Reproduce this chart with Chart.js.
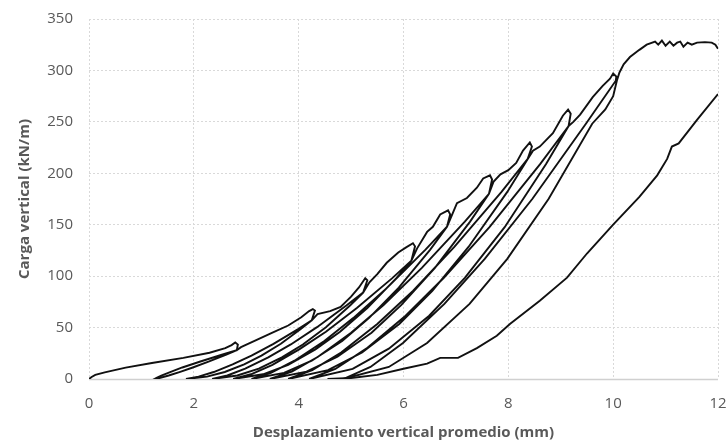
<!DOCTYPE html>
<html lang="es">
<head>
<meta charset="utf-8">
<script src="https://cdn.jsdelivr.net/npm/chart.js@4.4.1/dist/chart.umd.min.js"></script>
<style>
  html, body { margin: 0; padding: 0; background: #fff; }
</style>
</head>
<body>
<canvas id="cargaChart" width="728" height="446"></canvas>
<script>
// Ensayo ciclico: desplazamiento (mm) y carga (kN/m), en orden de registro
const desplazamiento = [
  // carga virgen hasta el primer pico
  0, 0.05, 0.12, 0.3, 0.7, 1.2, 1.8, 2.3, 2.6, 2.72, 2.79, 2.84, 2.82,
  // ciclo 1
  2.55, 2.11, 1.78, 1.56, 1.38, 1.29, 1.25,
  1.36, 1.52, 1.74, 1.98, 2.28, 2.62, 2.82, 2.9,
  3.2, 3.5, 3.8, 4.05, 4.2, 4.27, 4.31, 4.25,
  // ciclo 2
  3.99, 3.52, 3.1, 2.74, 2.38, 2.09, 1.85,
  2.25, 2.59, 2.96, 3.29, 3.66, 4.04, 4.25, 4.36,
  4.6, 4.8, 5.0, 5.15, 5.27, 5.31, 5.23,
  // ciclo 3
  4.91, 4.35, 3.85, 3.42, 2.98, 2.64, 2.35,
  2.83, 3.24, 3.68, 4.08, 4.52, 4.98, 5.23, 5.35,
  5.5, 5.68, 5.9, 6.05, 6.18, 6.22, 6.15,
  // ciclo 4
  5.78, 5.11, 4.52, 4.01, 3.5, 3.09, 2.75,
  3.32, 3.8, 4.32, 4.79, 5.31, 5.86, 6.15, 6.26,
  6.45, 6.56, 6.7, 6.85, 6.89, 6.83,
  // ciclo 5
  6.42, 5.69, 5.04, 4.49, 3.92, 3.47, 3.1,
  3.72, 4.25, 4.83, 5.34, 5.91, 6.51, 6.83, 6.93,
  7.02, 7.21, 7.4, 7.52, 7.65, 7.69, 7.63,
  // ciclo 6
  7.17, 6.35, 5.62, 5.0, 4.37, 3.87, 3.45,
  4.15, 4.74, 5.39, 5.96, 6.6, 7.27, 7.63, 7.72,
  7.85, 8.0, 8.15, 8.28, 8.41, 8.45, 8.37,
  // ciclo 7
  7.87, 6.97, 6.18, 5.5, 4.81, 4.26, 3.8,
  4.56, 5.21, 5.92, 6.55, 7.24, 7.98, 8.37, 8.47,
  8.6, 8.85, 9.04, 9.14, 9.19, 9.15,
  // ciclo 8
  8.61, 7.64, 6.77, 6.04, 5.29, 4.7, 4.2,
  5.03, 5.72, 6.49, 7.17, 7.93, 8.72, 9.15, 9.24,
  9.37, 9.61, 9.8, 9.94, 10.0, 10.06, 10.05,
  // ciclo 9
  9.48, 8.46, 7.55, 6.78, 5.99, 5.37, 4.85,
  5.72, 6.45, 7.26, 7.98, 8.77, 9.6, 9.85, 10.0, 10.07, 10.12,
  // meseta final
  10.2, 10.32, 10.5, 10.64, 10.8, 10.86, 10.93, 11.0, 11.08, 11.15,
  11.22, 11.28, 11.34, 11.42, 11.5, 11.6, 11.75, 11.88, 11.95, 12.0,
];
const carga = [
  0, 2, 4, 6.5, 11, 15.5, 20.5, 25.5, 30, 33, 35.5, 33.5, 28,
  23.8, 16.8, 11.2, 7, 3.4, 1.1, 0,
  1.1, 3.4, 7, 11.2, 16.8, 23.8, 28, 31,
  38, 45, 52, 60, 66, 68, 66.5, 57,
  48.5, 34.2, 22.8, 14.3, 6.8, 2.3, 0,
  2.3, 6.8, 14.3, 22.8, 34.2, 48.5, 57, 63,
  66, 70, 80, 89, 98, 96, 84,
  71.4, 50.4, 33.6, 21, 10.1, 3.4, 0,
  3.4, 10.1, 21, 33.6, 50.4, 71.4, 84, 94,
  102, 113, 123, 128, 132, 129, 115,
  97.8, 69, 46, 28.8, 13.8, 4.6, 0,
  4.6, 13.8, 28.8, 46, 69, 97.8, 115, 127,
  143, 148, 160, 164, 160, 148,
  125.8, 88.8, 59.2, 37, 17.8, 5.9, 0,
  5.9, 17.8, 37, 59.2, 88.8, 125.8, 148, 160,
  171, 176, 186, 195, 198, 194, 180,
  153, 108, 72, 45, 21.6, 7.2, 0,
  7.2, 21.6, 45, 72, 108, 153, 180, 192,
  199, 203, 210, 222, 230, 226, 214,
  181.9, 128.4, 85.6, 53.5, 25.7, 8.6, 0,
  8.6, 25.7, 53.5, 85.6, 128.4, 181.9, 214, 222,
  226, 239, 256, 262, 258, 246,
  209.1, 147.6, 98.4, 61.5, 29.5, 9.8, 0,
  9.8, 29.5, 61.5, 98.4, 147.6, 209.1, 246, 250,
  257, 274, 285, 292, 297, 294, 290,
  248.2, 175.2, 116.8, 73, 35, 11.7, 0,
  11.7, 35, 73, 116.8, 175.2, 248.2, 262, 275, 290, 298,
  306, 313, 320, 325, 328, 325, 329, 324, 328, 324,
  327, 328, 323, 327, 325, 327, 327.5, 327, 325, 321,
];

// Ultima rama de recarga (la curva mas baja)
const desplazamientoFinal = [
  4.55, 5.0, 5.5, 6.0, 6.45, 6.7, 7.04, 7.4, 7.78, 8.03, 8.6, 9.12,
  9.5, 10.0, 10.5, 10.84, 11.03, 11.12, 11.25, 11.6, 12.0,
];
const cargaFinal = [
  0, 1, 4, 10, 15, 20.5, 20.5, 30, 42, 53.5, 76, 98.5,
  122, 150, 177, 198, 214, 226, 229, 252, 277,
];

const xTicks = [0, 2, 4, 6, 8, 10, 12];
const yTicks = [0, 50, 100, 150, 200, 250, 300, 350];

const toPoints = (xs, ys) => xs.map((x, i) => ({ x: x, y: ys[i] }));

const textColor = "#595959";
const gridColor = "#d9d9d9";

// linea solida del eje horizontal
const axisLine = {
  id: "axisLine",
  beforeDatasetsDraw(chart) {
    const { ctx, chartArea } = chart;
    ctx.save();
    ctx.strokeStyle = "#d0d0d0";
    ctx.lineWidth = 1.5;
    ctx.beginPath();
    ctx.moveTo(chartArea.left, chartArea.bottom + 0.5);
    ctx.lineTo(chartArea.right, chartArea.bottom + 0.5);
    ctx.stroke();
    ctx.restore();
  },
};

const lineStyle = {
  showLine: true,
  borderColor: "#111111",
  borderWidth: 1.9,
  pointRadius: 0,
  tension: 0,
  fill: false,
};

// marcas de tick invisibles: solo separan las etiquetas del eje
const gridStyle = {
  color: gridColor,
  lineWidth: 1,
  drawTicks: true,
  tickLength: 15,
  tickColor: "rgba(0,0,0,0)",
};

const config = {
  type: "scatter",
  data: {
    datasets: [
      { label: "Ciclos", data: toPoints(desplazamiento, carga), ...lineStyle },
      { label: "Recarga final", data: toPoints(desplazamientoFinal, cargaFinal), ...lineStyle },
    ],
  },
  options: {
    responsive: false,
    animation: false,
    layout: { padding: { left: 12, right: 10, top: 19, bottom: 0 } },
    plugins: {
      legend: { display: false },
      tooltip: { enabled: false },
    },
    scales: {
      x: {
        type: "linear",
        min: 0,
        max: 12,
        afterBuildTicks: (scale) => {
          scale.ticks = xTicks.map((v) => ({ value: v }));
        },
        afterFit: (scale) => {
          scale.height = 67;
        },
        grid: gridStyle,
        border: { display: false, dash: [2, 2] },
        ticks: {
          color: textColor,
          padding: 1,
          font: { family: "'Open Sans', sans-serif", size: 15 },
        },
        title: {
          display: true,
          text: "Desplazamiento vertical promedio (mm)",
          color: textColor,
          padding: { top: 4, bottom: 4 },
          font: { family: "'Open Sans', sans-serif", size: 15, weight: "bold" },
        },
      },
      y: {
        type: "linear",
        min: 0,
        max: 350,
        afterBuildTicks: (scale) => {
          scale.ticks = yTicks.map((v) => ({ value: v }));
        },
        afterFit: (scale) => {
          scale.width = 77;
        },
        grid: gridStyle,
        border: { display: false, dash: [2, 2] },
        ticks: {
          color: textColor,
          padding: 1,
          font: { family: "'Open Sans', sans-serif", size: 15 },
        },
        title: {
          display: true,
          text: "Carga vertical (kN/m)",
          color: textColor,
          padding: { top: 4, bottom: 4 },
          font: { family: "'Open Sans', sans-serif", size: 15, weight: "bold" },
        },
      },
    },
  },
  plugins: [axisLine],
};

const cargaChart = new Chart(document.getElementById("cargaChart"), config);
</script>
</body>
</html>
